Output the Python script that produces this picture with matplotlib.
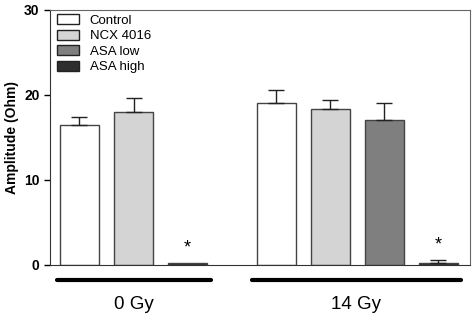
import matplotlib.pyplot as plt
import matplotlib.transforms as mtransforms
from matplotlib.patches import Patch

plt.rcParams['font.family'] = ['Liberation Sans', 'DejaVu Sans']

# bar data
treatments = ["Control", "NCX 4016", "ASA low", "ASA high"]
colors = ["#ffffff", "#d4d4d4", "#7f7f7f", "#2e2e2e"]
groups = ["0 Gy", "14 Gy"]

# 0 Gy has no ASA low bar
g0_names = ["Control", "NCX 4016", "ASA high"]
g0_vals = [16.5, 18.0, 0.2]
g0_err = [0.9, 1.6, 0.0]

g1_names = ["Control", "NCX 4016", "ASA low", "ASA high"]
g1_vals = [19.0, 18.4, 17.0, 0.25]
g1_err = [1.6, 1.0, 2.1, 0.3]

sig_0 = ["", "", "*"]
sig_1 = ["", "", "", "*"]

fig = plt.figure(figsize=(4.74, 3.2), dpi=100)
ax = fig.add_axes([0.1055, 0.172, 0.886, 0.797])

width = 0.72
offset = 3.64
pos0 = [0, 1, 2]
pos1 = [offset + i for i in range(4)]

def draw(pos, names, vals, errs, sig):
    for x, n, v, e, s in zip(pos, names, vals, errs, sig):
        c = colors[treatments.index(n)]
        ax.bar(x, v, width, color=c, edgecolor="#444444", linewidth=1.0, zorder=2)
        if e > 0:
            ax.errorbar(x, v, yerr=[[0], [e]], fmt="none", ecolor="#222222",
                        elinewidth=1.0, capsize=6, capthick=1.0, zorder=3)
        if s:
            ax.text(x, v + e + 0.8, s, ha="center", va="bottom", fontsize=13)

draw(pos0, g0_names, g0_vals, g0_err, sig_0)
draw(pos1, g1_names, g1_vals, g1_err, sig_1)

ax.set_xlim(-0.546, 7.23)
ax.set_ylim(0, 30)
ax.set_yticks([0, 10, 20, 30])
ax.set_xticks([])
for lab in ax.get_yticklabels():
    lab.set_fontweight("bold")
    lab.set_fontsize(10)
ax.tick_params(axis="y", direction="out", length=4, width=1)
ax.set_ylabel("Amplitude (Ohm)", fontsize=10, fontweight="bold")

for sp in ["left", "bottom"]:
    ax.spines[sp].set_color("#333333")
for sp in ["top", "right"]:
    ax.spines[sp].set_color("#666666")

# group lines under the axis
trans = mtransforms.blended_transform_factory(ax.transData, ax.transAxes)
spans = [(-0.42, 2.44), (3.19, 7.06)]
for (a, b), g in zip(spans, groups):
    ax.plot([a, b], [-0.059, -0.059], color="black", linewidth=3,
            transform=trans, clip_on=False, solid_capstyle="round")
    ax.text((a + b) / 2, -0.155, g, transform=trans, ha="center", va="center",
            fontsize=13.5)

handles = [Patch(facecolor=c, edgecolor="#222222", linewidth=1.0) for c in colors]
ax.legend(handles, treatments, loc="upper left", frameon=False, fontsize=9.5,
          handlelength=1.7, handleheight=0.8, labelspacing=0.22,
          handletextpad=0.8, borderaxespad=0.1, bbox_to_anchor=(0.0, 1.01))

fig.savefig("out.png", dpi=100)
